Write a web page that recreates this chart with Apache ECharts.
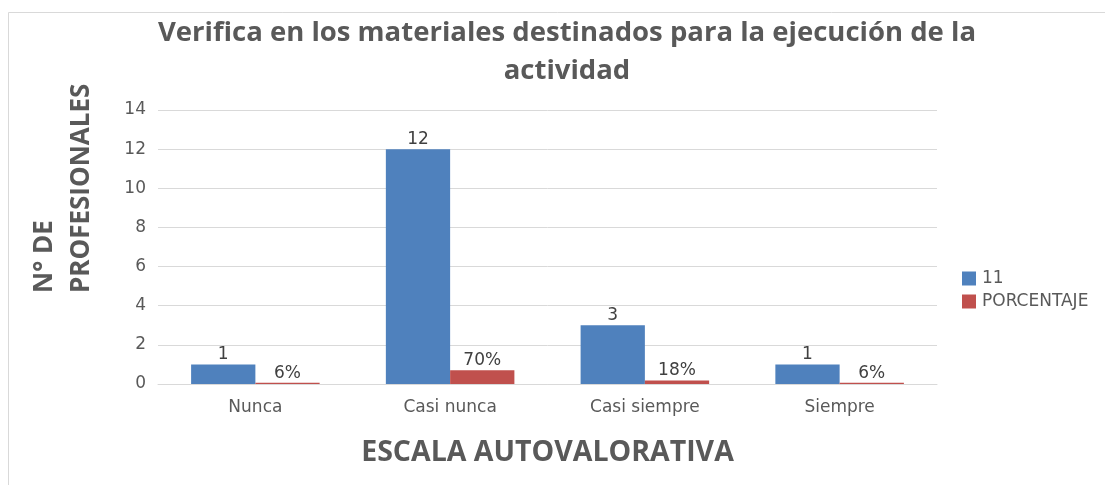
<!DOCTYPE html>
<html>
<head>
<meta charset="utf-8">
<script src="https://cdn.jsdelivr.net/npm/echarts@6/dist/echarts.min.js"></script>
<style>
  html, body { margin: 0; padding: 0; background: #fff; }
  #chart { width: 1105px; height: 485px; }
</style>
</head>
<body>
<div id="chart"></div>
<script>
    'use strict';

    var categories = ['Nunca', 'Casi nunca', 'Casi siempre', 'Siempre'];
    var countValues = [1, 12, 3, 1];
    var percentValues = [0.06, 0.70, 0.18, 0.06];
    var yTicks = [0, 2, 4, 6, 8, 10, 12, 14];

    var textGray = '#595959';
    var labelFont = 'DejaVu Sans, sans-serif';
    var boldFont = 'Open Sans, sans-serif';

    //grafico
    var myChart = echarts.init(document.getElementById('chart'));
    var option = {
        backgroundColor: '#fff',
        animation: false,
        title: {
            text: 'Verifica en los materiales destinados para la ejecución de la\nactividad',
            left: 562,
            textAlign: 'center',
            top: 9,
            textStyle: {
                fontFamily: boldFont,
                fontWeight: 'bold',
                fontSize: 27.5,
                lineHeight: 38,
                color: textGray
            }
        },
        graphic: [
            {
                type: 'rect',
                shape: {x: 8.5, y: 12.5, width: 1110, height: 480},
                style: {fill: 'none', stroke: '#d9d9d9', lineWidth: 1}
            },
            //titulo del eje Y, dos lineas giradas, alineadas abajo
            {
                type: 'text',
                x: 63,
                y: 293,
                rotation: Math.PI / 2,
                style: {
                    text: 'N° DE\nPROFESIONALES',
                    fontFamily: boldFont,
                    fontWeight: 'bold',
                    fontSize: 26,
                    lineHeight: 37,
                    fill: textGray,
                    align: 'left',
                    verticalAlign: 'middle'
                }
            }
        ],
        legend: {
            data: ['11', 'PORCENTAJE'],
            orient: 'vertical',
            left: 957,
            top: 265,
            itemWidth: 14,
            itemHeight: 14,
            itemGap: 6,
            icon: 'rect',
            textStyle: {
                fontFamily: labelFont,
                fontSize: 17,
                color: textGray,
                padding: [0, 0, 0, 1]
            }
        },
        grid: {
            left: 158,
            right: 168,
            top: 110,
            bottom: 101
        },
        xAxis: {
            type: 'category',
            data: categories,
            name: 'ESCALA AUTOVALORATIVA',
            nameLocation: 'middle',
            nameGap: 54,
            nameTextStyle: {
                fontFamily: boldFont,
                fontWeight: 'bold',
                fontSize: 28.5,
                color: textGray
            },
            axisLine: {lineStyle: {color: '#d9d9d9'}},
            axisTick: {show: false},
            axisLabel: {
                margin: 15,
                fontFamily: labelFont,
                fontSize: 17,
                color: textGray
            }
        },
        yAxis: {
            type: 'value',
            min: yTicks[0],
            max: yTicks[yTicks.length - 1],
            interval: 2,
            axisLine: {show: false},
            axisTick: {show: false},
            axisLabel: {
                margin: 12,
                fontFamily: labelFont,
                fontSize: 17,
                color: textGray
            },
            splitLine: {lineStyle: {color: '#d9d9d9'}}
        },
        series: [
            {
                name: '11',
                type: 'bar',
                data: countValues,
                barGap: '0%',
                barCategoryGap: '34%',
                itemStyle: {color: '#4f81bd'},
                label: {
                    show: true,
                    position: 'top',
                    distance: 1,
                    fontFamily: labelFont,
                    fontSize: 17,
                    color: '#404040'
                }
            },
            {
                name: 'PORCENTAJE',
                type: 'bar',
                data: percentValues,
                itemStyle: {color: '#c0504d'},
                label: {
                    show: true,
                    position: 'top',
                    distance: 1,
                    fontFamily: labelFont,
                    fontSize: 17,
                    color: '#404040',
                    formatter: function (p) {
                        return Math.round(p.value * 100) + '%';
                    }
                }
            }
        ]
    };
    myChart.setOption(option);
</script>
</body>
</html>
